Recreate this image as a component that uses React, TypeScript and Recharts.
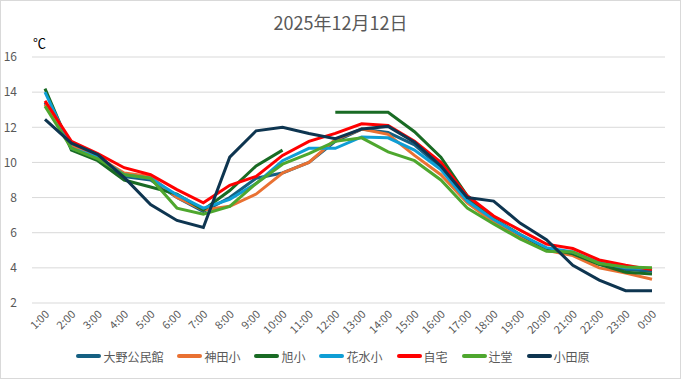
import React from "react";
import { LineChart, Line, XAxis, YAxis, CartesianGrid, Legend } from "recharts";

const hours = [
  "1:00", "2:00", "3:00", "4:00", "5:00", "6:00", "7:00", "8:00",
  "9:00", "10:00", "11:00", "12:00", "13:00", "14:00", "15:00", "16:00",
  "17:00", "18:00", "19:00", "20:00", "21:00", "22:00", "23:00", "0:00",
];

const yTicks = [2, 4, 6, 8, 10, 12, 14, 16];

const ono = [13.4, 10.9, 10.2, 9.2, 9.0, 8.0, 7.2, 8.0, 9.1, 9.4, 10.0, 11.2, 11.9, 11.7, 11.0, 9.7, 7.9, 6.7, 5.8, 5.0, 4.8, 4.2, 3.9, 3.8];
const kanda = [13.3, 11.0, 10.3, 9.4, 9.2, 8.0, 7.3, 7.5, 8.2, 9.4, 10.0, 11.3, 11.9, 11.6, 10.4, 9.3, 7.7, 6.6, 5.8, 5.0, 4.7, 4.0, 3.7, 3.35];
const asahi = [14.2, 10.7, 10.1, 9.0, 8.6, 8.2, 7.3, 8.4, 9.8, 10.7, null, 12.85, 12.85, 12.85, 11.75, 10.3, 8.1, 6.8, 5.9, 5.1, 4.8, 4.2, 3.75, 3.65];
const hanamizu = [14.0, 10.8, 10.3, 9.3, 9.1, 8.15, 7.4, 7.9, 8.8, 10.1, 10.8, 10.8, 11.45, 11.4, 10.7, 9.6, 7.8, 6.75, 5.9, 5.15, 4.9, 4.3, 4.0, 3.95];
const jitaku = [13.5, 11.2, 10.5, 9.7, 9.3, 8.45, 7.7, 8.7, 9.2, 10.4, 11.2, 11.65, 12.2, 12.1, 11.2, 10.0, 8.1, 6.95, 6.15, 5.35, 5.1, 4.45, 4.15, 3.9];
const tsujido = [13.2, 10.8, 10.2, 9.3, 9.1, 7.4, 7.05, 7.5, 8.8, 9.9, 10.5, 11.2, 11.4, 10.6, 10.1, 9.0, 7.4, 6.5, 5.65, 4.95, 4.9, 4.25, 4.05, 4.0];
const odawara = [12.45, 11.1, 10.45, 9.15, 7.6, 6.7, 6.3, 10.3, 11.8, 12.0, 11.65, 11.35, 11.9, 12.05, 11.15, 9.8, 8.0, 7.8, 6.55, 5.6, 4.15, 3.3, 2.7, 2.7];

const series = [
  { key: "ono", name: "大野公民館", color: "#156082", values: ono },
  { key: "kanda", name: "神田小", color: "#E97132", values: kanda },
  { key: "asahi", name: "旭小", color: "#196B24", values: asahi },
  { key: "hanamizu", name: "花水小", color: "#0F9ED5", values: hanamizu },
  { key: "jitaku", name: "自宅", color: "#FF0000", values: jitaku },
  { key: "tsujido", name: "辻堂", color: "#4EA72E", values: tsujido },
  { key: "odawara", name: "小田原", color: "#0E3550", values: odawara },
];

const data = hours.map((h, i) => {
  const row: Record<string, any> = { hour: h };
  series.forEach((s) => {
    row[s.key] = s.values[i];
  });
  return row;
});

const FONT = "'Noto Sans CJK JP', 'Noto Sans', sans-serif";

const HourTick = (props: any) => {
  const { x, y, payload } = props;
  return (
    <text
      x={x + 5}
      y={y + 4}
      textAnchor="end"
      fill="#595959"
      fontSize={11}
      fontFamily={FONT}
      transform={`rotate(-45, ${x + 5}, ${y + 4})`}
    >
      {payload.value}
    </text>
  );
};

const LegendBox = () => (
  <div
    style={{
      display: "flex",
      justifyContent: "center",
      alignItems: "center",
      height: 20,
      fontSize: 12,
      color: "#595959",
      fontFamily: FONT,
    }}
  >
    {series.map((s) => (
      <div key={s.key} style={{ display: "flex", alignItems: "center", margin: "0 7px" }}>
        <span
          style={{
            display: "inline-block",
            width: 25,
            height: 4,
            borderRadius: 2,
            background: s.color,
            marginRight: 2,
          }}
        />
        <span>{s.name}</span>
      </div>
    ))}
  </div>
);

export default function App() {
  return (
    <div
      style={{
        width: 681,
        height: 379,
        border: "1px solid #d9d9d9",
        boxSizing: "border-box",
        position: "relative",
        background: "#fff",
        fontFamily: FONT,
      }}
    >
      <style>{"body{margin:0}"}</style>
      <div
        style={{
          position: "absolute",
          top: 8,
          left: 0,
          width: "100%",
          textAlign: "center",
          fontSize: 18,
          color: "#595959",
        }}
      >
        2025年12月12日
      </div>
      <div style={{ position: "absolute", top: 32, left: 32, fontSize: 13, color: "#000" }}>℃</div>
      <LineChart
        width={679}
        height={377}
        data={data}
        margin={{ top: 56, right: 15, left: 0, bottom: 12 }}
      >
        <CartesianGrid vertical={false} stroke="#d9d9d9" />
        <XAxis
          dataKey="hour"
          axisLine={false}
          tickLine={false}
          interval={0}
          height={43}
          padding={{ left: 13, right: 13 }}
          tick={<HourTick />}
        />
        <YAxis
          domain={[2, 16]}
          ticks={yTicks}
          width={31}
          axisLine={false}
          tickLine={false}
          tickMargin={9}
          tick={{ fill: "#595959", fontSize: 12, fontFamily: FONT }}
        />
        <Legend verticalAlign="bottom" content={<LegendBox />} />
        {series.map((s) => (
          <Line
            key={s.key}
            type="linear"
            dataKey={s.key}
            name={s.name}
            stroke={s.color}
            strokeWidth={3}
            dot={false}
            isAnimationActive={false}
          />
        ))}
      </LineChart>
    </div>
  );
}
